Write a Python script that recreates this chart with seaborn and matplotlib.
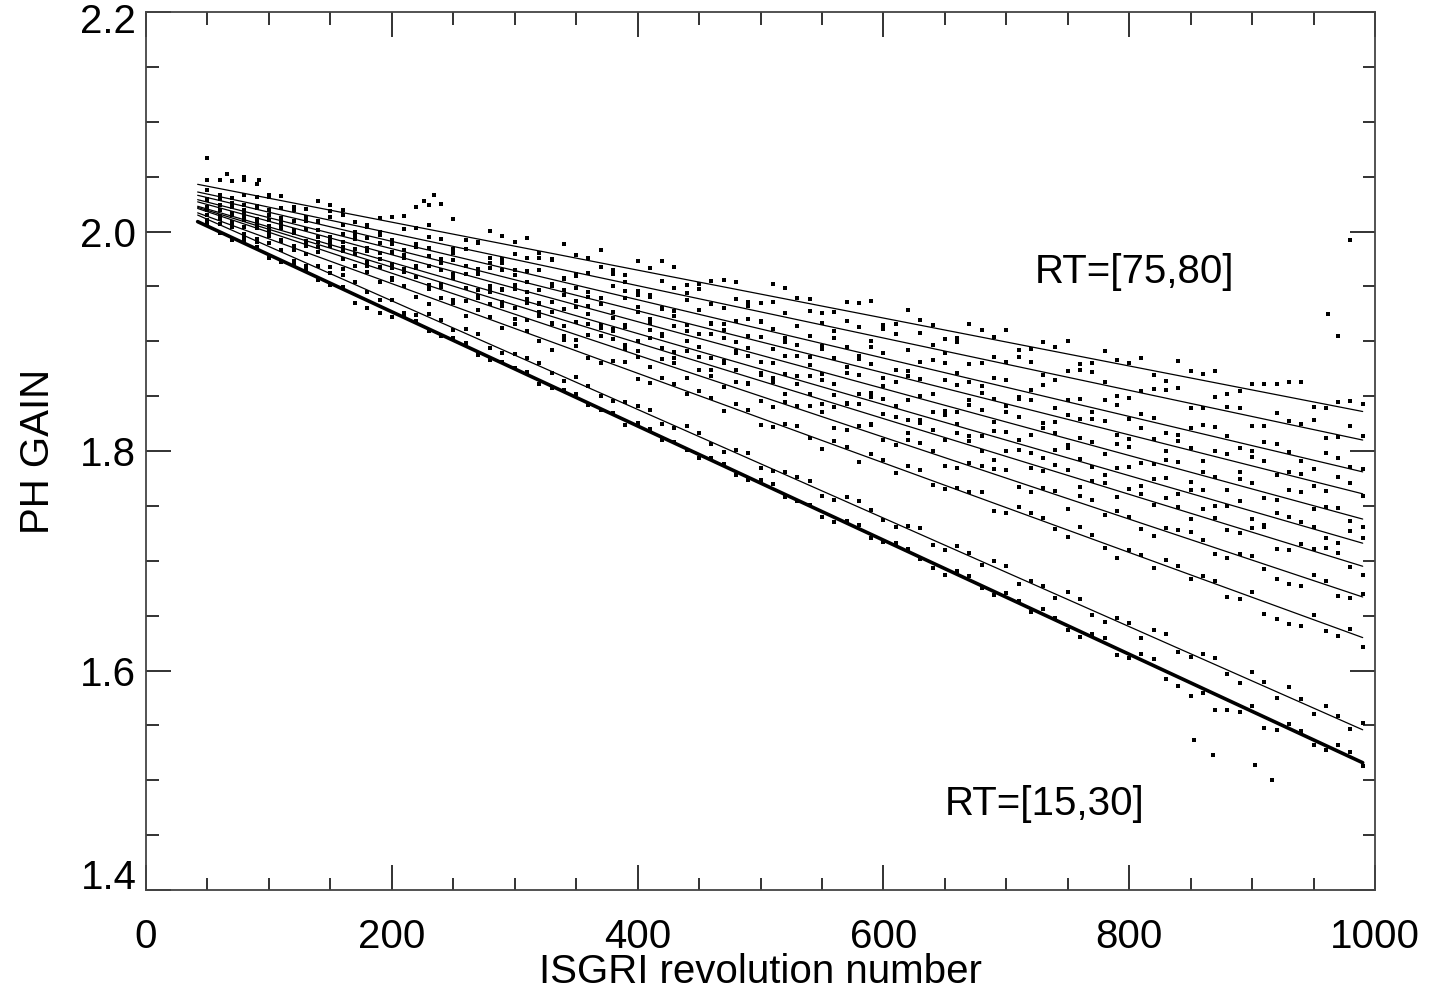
import numpy as np
import pandas as pd
import matplotlib
matplotlib.use("Agg")
import matplotlib.pyplot as plt
import seaborn as sns
from matplotlib.ticker import MultipleLocator, FuncFormatter

# linear gain trends, one per rise-time bin (top: RT=[75,80], bottom: RT=[15,30])
rev_start = 42
rev_end = 990
gain_start = [2.043, 2.036, 2.033, 2.029, 2.027, 2.023, 2.022, 2.021, 2.017, 2.015, 2.009]
gain_end = [1.836, 1.810, 1.781, 1.761, 1.738, 1.716, 1.695, 1.667, 1.630, 1.546, 1.516]
line_widths = [0.9, 0.9, 0.9, 0.9, 0.9, 0.9, 0.9, 0.9, 0.9, 0.9, 2.6]

# measured gains: residuals from each trend (units of 1e-3) at sampled revolutions
sample_revs_a = list(range(50, 1000, 20))
residuals_a = [
    [6, 9, 11, 4, -3, 5, -6, 2, 8, 22, 14, -4, 7, 10, -5, 3, 12, -7, 4, 9, -2, 6, -9, 11,
     3, -6, 8, 13, -3, 5, -8, 10, 2, -5, 7, 12, -4, 3, 9, -7, 6, 11, -3, 8, 14, -5, 4, 7],
    [4, -3, 7, 2, -5, 8, 3, -4, 6, 15, -2, 9, -6, 4, 7, -3, 10, 1, -8, 5, 9, -4, 3, 11,
     -6, 2, 8, -5, 6, 12, -2, -7, 4, 9, -3, 6, 10, -8, 2, 7, -4, 11, 5, -6, 3, 9, -2, 4],
    [-2, 5, 3, -6, 4, 9, -3, 6, -5, 12, 3, -7, 8, 2, -4, 10, -6, 5, 7, -2, 4, -9, 6, 3,
     11, -5, 2, 7, -8, 4, 9, -3, 6, -6, 10, 2, -4, 8, 5, -7, 3, 9, -5, 6, 2, -8, 7, 3],
    [3, -4, 6, -2, 5, -5, 7, 2, -6, 9, 4, -3, 6, -8, 3, 7, -2, 9, -5, 4, -7, 8, 2, -4,
     6, 10, -3, 5, -6, 3, 8, -5, 2, 7, -9, 4, 6, -3, 9, -6, 2, 5, -8, 7, 3, -4, 10, -2],
    [-3, 4, -5, 6, 2, -4, 5, -7, 3, 8, -2, 6, -5, 9, -3, 4, 7, -6, 2, 5, -8, 6, 3, -4,
     8, -2, 5, -7, 9, 2, -5, 6, -3, 8, 4, -6, 3, 7, -4, 5, -9, 2, 6, -5, 8, -3, 4, -7],
    [2, -5, 4, 3, -6, 7, -2, 5, -4, 6, 3, -8, 5, 2, -3, 8, -5, 3, 6, -7, 4, -2, 9, -5,
     3, 6, -8, 4, 2, -4, 7, -6, 5, 3, -7, 9, -2, 4, -6, 8, 3, -5, 6, -9, 4, 2, -6, 5],
    [-4, 3, -2, 5, -5, 4, 6, -3, 2, -6, 7, 3, -4, 5, -7, 2, 6, -5, 8, -3, 4, 6, -6, 2,
     7, -4, 3, -8, 5, 6, -2, 4, -7, 9, -3, 5, 2, -6, 4, 7, -5, 3, -4, 8, -6, 2, 5, -8],
    [2, -3, 4, -4, 3, 6, -5, 2, 5, -3, -6, 4, 7, -2, 3, -5, 6, 2, -7, 4, 5, -3, 8, -6,
     2, 4, -5, 7, -3, 6, -8, 3, 5, -4, 2, -9, 6, 4, -5, 3, 7, -6, 2, -4, -11, 5, -7, 3],
    [-3, 2, -4, 3, -2, -5, 4, -3, 2, -6, 3, 5, -4, 2, -7, 4, -3, 6, -5, 2, 4, -6, 3, -4,
     5, -8, 2, 4, -5, 6, -3, 2, -7, 5, 3, -6, 4, -9, 2, 5, -4, 3, -6, -11, -12, 4, -7, -9],
    [-2, 3, -1, 2, -3, 1, 2, -4, -6, 3, -2, 4, -3, 2, -1, 5, -3, 2, 4, -2, 3, -4, 5, -2,
     3, -5, 4, 2, -3, 6, -4, 3, 5, -6, 2, 7, -4, 3, -5, 8, -3, 6, -7, 4, 9, -5, 3, 6],
    [1, -2, 2, -1, 3, -2, -8, -6, 1, -2, 2, -3, 1, 2, -2, 3, -1, -4, 2, 1, -3, 2, -2, 4,
     -1, -5, 2, -3, 3, -2, -6, 4, -3, 2, 5, -4, 3, -6, 5, -7, -12, -14, -6, -10, 4, -5, 6, -3],
]
sample_revs_b = list(range(60, 1000, 20))
residuals_b = [
    [8, 12, 3, -4, 6, 2, -7, 5, 18, 25, -3, 9, 4, -6, 11, 2, -4, 8, 13, -5, 3, 7, -8, 10,
     4, -3, 9, -6, 12, 2, -5, 7, 11, -2, 4, -7, 9, 3, -4, 13, 6, -8, 5, 10, 16, -3, 7],
    [-2, 6, 9, 3, -4, 7, 1, -6, 10, 4, 8, -3, 5, 11, -7, 2, 6, -5, 9, 3, -2, 7, -8, 4,
     10, -3, 5, 8, -6, 3, 11, -4, 2, 7, -5, 9, 3, -7, 6, 12, -2, 4, -9, 8, 3, -5, 10],
    [5, -3, 2, 7, -6, 4, 8, -2, 3, -5, 9, 2, -4, 6, 3, -8, 7, 4, -3, 10, -5, 2, 6, -7,
     4, 8, -3, 5, -6, 9, 2, -4, 7, 3, -8, 5, 10, -2, 4, -6, 8, 3, -5, 7, -3, 9, 2],
    [-4, 6, -2, 3, 8, -5, 4, -3, 7, 2, -6, 5, 9, -4, 2, 6, -7, 3, 8, -2, 5, -6, 4, 9,
     -3, 2, 7, -5, 3, -8, 6, 4, -2, 9, -5, 3, 7, -4, 2, 6, -7, 5, 8, -3, 4, -6, 7],
    [3, -2, 6, -5, 4, 7, -3, 2, -6, 5, 8, -4, 3, -7, 6, 2, -3, 9, -5, 4, 7, -2, -6, 5,
     3, -8, 6, 2, -4, 7, -3, 5, 9, -6, 2, 4, -5, 8, -2, 6, 3, -7, 5, -4, 9, 2, -5],
    [-3, 5, -6, 2, 4, -3, 7, -5, 3, 6, -4, 2, 8, -6, 3, 5, -2, -7, 4, 6, -3, 8, -5, 2,
     7, -4, 3, 5, -8, 6, 2, -3, 7, -5, 4, 2, -6, 8, 3, -4, 6, -2, -7, 5, 3, -5, 8],
    [4, -5, 3, 6, -2, 5, -6, 3, 7, -4, 2, 5, -3, 8, -5, 3, 4, -7, 2, 6, -4, 3, 7, -5,
     2, -3, 6, 4, -6, 3, 8, -2, 5, -4, 6, -7, 3, 5, -3, 2, 7, -5, 4, -8, 3, 6, -4],
    [-3, 4, 2, -5, 6, -2, 3, -6, 4, 5, -3, 2, -4, 6, -5, 3, 7, -2, 4, -6, 3, 5, -4, 2,
     6, -7, 3, -3, 5, 2, -6, 4, 7, -5, 3, 6, -4, 2, -8, 5, 3, -6, 4, -10, -9, 3, -5],
    [2, -4, 3, -2, 4, -3, 2, 5, -4, 3, -5, 2, 4, -3, 6, -2, 3, -5, 4, -3, 2, 5, -6, 3,
     -2, 4, -7, 3, 5, -4, 2, 6, -5, 3, -3, 7, -4, 2, -6, 4, 3, -8, 5, -12, -10, -6, 4],
    [1, -2, 3, -3, 2, 4, -2, 1, -3, 2, 4, -3, 1, 3, -4, 2, -2, 3, -3, 5, -2, 3, -4, 2,
     4, -3, 6, -2, 3, -5, 4, -3, 6, 2, -4, 5, -6, 3, 7, -3, 5, -4, 8, -6, 3, 7, -4],
    [-1, 2, -3, 1, -2, 2, -7, -5, 2, -1, 3, -2, 1, -3, 2, -2, 1, 3, -2, -1, 2, -3, 3, -2,
     1, -4, 3, -2, 2, -5, 3, -2, 4, -3, 2, -5, 4, -3, 6, -8, -4, -9, 5, -7, 3, -4, 5],
]

# isolated points far from the trends
outlier_revs = [50, 66, 80, 92, 226, 234, 962, 970, 980, 853, 868, 902, 916]
outlier_gains = [2.067, 2.052, 2.050, 2.047, 2.028, 2.033, 1.925, 1.905, 1.992,
                 1.537, 1.523, 1.514, 1.500]

y_min, y_max = 1.4, 2.2

# build tables
line_rows = []
point_rows = []
for i, (g0, g1) in enumerate(zip(gain_start, gain_end)):
    line_rows.append({"line": i, "rev": rev_start, "gain": g0})
    line_rows.append({"line": i, "rev": rev_end, "gain": g1})
    slope = (g1 - g0) / (rev_end - rev_start)
    for revs, res in ((sample_revs_a, residuals_a[i]), (sample_revs_b, residuals_b[i])):
        for rev, r in zip(revs, res):
            point_rows.append({"rev": rev, "gain": g0 + slope * (rev - rev_start) + r / 1000})
for rev, g in zip(outlier_revs, outlier_gains):
    point_rows.append({"rev": rev, "gain": g})
lines = pd.DataFrame(line_rows)
points = pd.DataFrame(point_rows)

sns.set_style("ticks")
plt.rcParams['font.family'] = ['Liberation Sans', 'DejaVu Sans']
plt.rcParams.update({"text.color": "black", "axes.labelcolor": "black",
                     "xtick.color": "black", "ytick.color": "black"})

fig = plt.figure(figsize=(14.36, 9.92), dpi=100)
ax = fig.add_axes([0.1017, 0.1028, 0.8558, 0.8851])

sns.scatterplot(data=points, x="rev", y="gain", color="black", marker="s",
                s=6, linewidth=0, ax=ax, legend=False)
for i in range(len(gain_start)):
    sns.lineplot(data=lines[lines["line"] == i], x="rev", y="gain", color="black",
                 linewidth=line_widths[i], ax=ax, legend=False)

ax.set_xlim(0, 1000)
ax.set_ylim(y_min, y_max)
ax.xaxis.set_major_locator(MultipleLocator(200))
ax.xaxis.set_minor_locator(MultipleLocator(50))
ax.yaxis.set_major_locator(MultipleLocator(0.2))
ax.yaxis.set_minor_locator(MultipleLocator(0.05))
# end labels are drawn separately, nudged inside the axis range
ax.yaxis.set_major_formatter(FuncFormatter(
    lambda v, p: "" if abs(v - y_min) < 1e-6 or abs(v - y_max) < 1e-6 else f"{v:.1f}"))

ax.tick_params(which="both", direction="in", top=True, right=True,
               width=1.3, color="#222222", labelcolor="black", labelsize=29)
ax.tick_params(which="major", length=18)
ax.tick_params(which="minor", length=9)
ax.tick_params(axis="x", pad=20)
ax.tick_params(axis="y", pad=7)
for sp in ax.spines.values():
    sp.set_linewidth(1.3)
    sp.set_color("#444444")

ax.annotate(f"{y_max:.1f}", xy=(0, y_max), xycoords=("axes fraction", "data"),
            xytext=(-7, -7), textcoords="offset points", ha="right", va="center",
            fontsize=29)
ax.annotate(f"{y_min:.1f}", xy=(0, y_min), xycoords=("axes fraction", "data"),
            xytext=(-7, 9), textcoords="offset points", ha="right", va="center",
            fontsize=29)

ax.set_xlabel("ISGRI revolution number", fontsize=29, labelpad=-2)
ax.set_ylabel("PH GAIN", fontsize=29, labelpad=17)

ax.text(723, 1.953, "RT=[75,80]", fontsize=29, va="baseline", ha="left")
ax.text(650, 1.468, "RT=[15,30]", fontsize=29, va="baseline", ha="left")

fig.savefig("out.png", dpi=100)
